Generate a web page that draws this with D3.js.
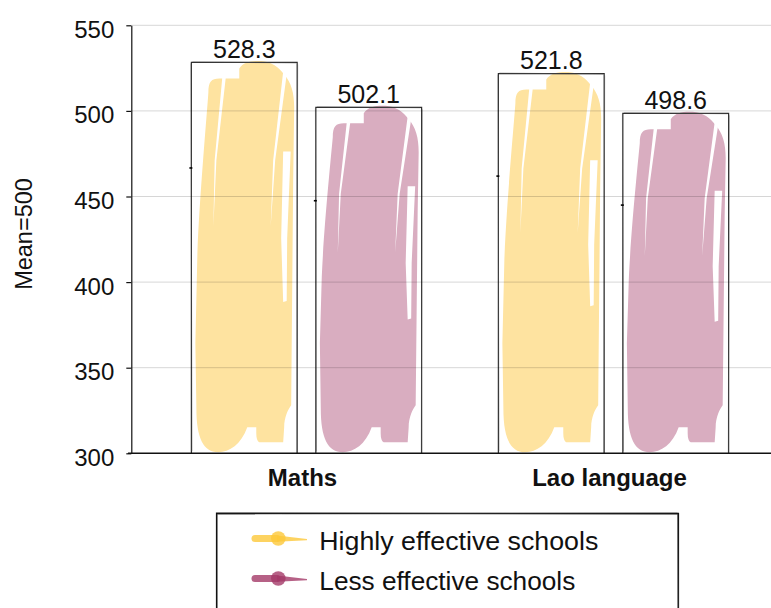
<!DOCTYPE html>
<html>
<head>
<meta charset="utf-8">
<script src="https://cdn.jsdelivr.net/npm/d3@7/dist/d3.min.js"></script>
<style>
  html, body { margin: 0; padding: 0; background: #fff; }
  svg { display: block; }
  text { font-family: "Liberation Sans", Arial, Helvetica, sans-serif; fill: #111; }
</style>
</head>
<body>
<svg id="chart" width="771" height="608"></svg>
<script>
// Mean scores by subject and school group
const categories = ["Maths", "Lao language"];
const seriesNames = ["Highly effective schools", "Less effective schools"];
const highlyEffective = [528.3, 521.8];
const lessEffective = [502.1, 498.6];
const yTicks = [300, 350, 400, 450, 500, 550];
const fillColors = ["#fee3a0", "#d9adc0"];
const legendColors = ["#fdc83a", "#a43a68"];
const legendTextWidths = [279, 256];

const seriesValues = [highlyEffective, lessEffective];
const rows = categories.map((c, i) => ({
  category: c,
  values: seriesNames.map((s, j) => ({ series: s, idx: j, value: seriesValues[j][i] }))
}));

const svg = d3.select("#chart");
const W = 771, H = 608;
svg.append("rect").attr("width", W).attr("height", H).attr("fill", "#fff");

const plotLeft = 131.3, plotRight = 771;
const y = d3.scaleLinear().domain([300, 550]).range([453.3, 25.3]);
const x0 = d3.scaleBand().domain(categories).range([153, 767])
  .paddingInner(0.25).paddingOuter(0.125);
const x1 = d3.scaleBand().domain(seriesNames).range([0, x0.bandwidth()])
  .paddingInner(0.15).paddingOuter(0);

// Hand-painted looking fill: outline defined in pixel offsets for a 106px wide bar
function blobPath(L, Wd, T, B) {
  const k = Wd / 106, Hh = B - T;
  const P = (u, yy) => `${(L + u * k).toFixed(1)},${yy.toFixed(1)}`;
  return [
    `M${P(17, T + 30)}`,
    `C${P(17, T + 19)} ${P(20, T + 16)} ${P(28, T + 16)}`,
    `L${P(48, T + 16)}`,
    `L${P(48, T + 6)}`,
    `C${P(52, T - 1)} ${P(62, T - 2)} ${P(70, T - 1.5)}`,
    `C${P(80, T - 1)} ${P(88, T + 5)} ${P(93, T + 12)}`,
    `C${P(100, T + 20)} ${P(103, T + 30)} ${P(103, T + 45)}`,
    `L${P(102, T + 0.3 * Hh)}`,
    `L${P(100, B - 48)}`,
    `C${P(97, B - 44)} ${P(93, B - 36)} ${P(93, B - 26)}`,
    `L${P(92, B - 11)}`,
    `L${P(68, B - 11)}`,
    `C${P(66, B - 12)} ${P(65, B - 15)} ${P(65, B - 20)}`,
    `L${P(65, B - 26)}`,
    `L${P(56, B - 26)}`,
    `C${P(50, B - 9)} ${P(38, B - 1)} ${P(27, B - 1)}`,
    `C${P(12, B - 1)} ${P(5, B - 15)} ${P(5, B - 45)}`,
    `L${P(4, B - 110)}`,
    `L${P(6, T + 0.49 * Hh)}`,
    `C${P(8, T + 0.35 * Hh)} ${P(15, T + 0.15 * Hh)} ${P(17, T + 30)}`,
    "Z"
  ].join(" ");
}

function streakPaths(L, Wd, T, B) {
  const k = Wd / 106, Hh = B - T;
  const P = (u, yy) => `${(L + u * k).toFixed(1)},${yy.toFixed(1)}`;
  const N = T + 0.228 * Hh;
  return [
    `M${P(31, T + 15)} L${P(34.5, T + 15)} L${P(25, T + 0.25 * Hh)} L${P(22, T + 0.42 * Hh)} L${P(23.3, T + 0.25 * Hh)} Z`,
    `M${P(92, T + 9)} L${P(95.5, T + 12)} L${P(84, T + 0.25 * Hh)} L${P(79.5, T + 0.42 * Hh)} L${P(82, T + 0.25 * Hh)} Z`,
    `M${P(92, N)} L${P(99.5, N)} L${P(96, T + 0.45 * Hh)} L${P(95.5, T + 0.61 * Hh)} L${P(92, T + 0.61 * Hh + 1)} L${P(90, T + 0.45 * Hh)} Z`
  ];
}

const base = y(300);

// Bars
const groups = svg.append("g").selectAll("g").data(rows).join("g")
  .attr("transform", d => `translate(${x0(d.category)},0)`);

groups.each(function (d) {
  const g = d3.select(this);
  d.values.forEach(v => {
    const L = x1(v.series), Wd = x1.bandwidth(), T = y(v.value);
    g.append("path").attr("d", blobPath(L, Wd, T, base))
      .attr("fill", fillColors[v.idx]);
    streakPaths(L, Wd, T, base).forEach(p =>
      g.append("path").attr("d", p).attr("fill", "#fff"));
    // sketchy outline box
    const R = L + Wd;
    g.append("path")
      .attr("d", `M${L},${base} L${L},${T} L${R},${T} L${R},${base}`)
      .attr("fill", "none").attr("stroke", "#2a2a2a").attr("stroke-width", 1.2);
    g.append("path")
      .attr("d", `M${L + 0.6},${base - 2} L${L - 0.4},${T + 1} M${L + 1},${T - 0.5} L${R - 1},${T + 0.5} M${R + 0.5},${T + 2} L${R - 0.3},${base}`)
      .attr("fill", "none").attr("stroke", "#555").attr("stroke-width", 0.8).attr("opacity", 0.6);
    g.append("line")
      .attr("x1", L - 2).attr("x2", L + 1)
      .attr("y1", T + 0.27 * (base - T)).attr("y2", T + 0.27 * (base - T))
      .attr("stroke", "#000").attr("stroke-width", 1.6);
    // value label
    g.append("text")
      .attr("x", L + Wd / 2).attr("y", T - 4.5)
      .attr("text-anchor", "middle")
      .style("font-size", "25px")
      .text(v.value.toFixed(1));
  });
});

// Gridlines over the bars
svg.append("g").selectAll("line").data(yTicks.filter(t => t > 300)).join("line")
  .attr("x1", plotLeft).attr("x2", plotRight)
  .attr("y1", d => y(d)).attr("y2", d => y(d))
  .attr("stroke", "#000").attr("stroke-opacity", 0.16).attr("stroke-width", 1);

// Y axis
const yAxis = svg.append("g").attr("transform", `translate(${plotLeft},0)`)
  .call(d3.axisLeft(y).tickValues(yTicks).tickSize(5).tickSizeOuter(0).tickPadding(12));
yAxis.select(".domain").attr("stroke", "#111").attr("stroke-width", 1.2);
yAxis.selectAll(".tick line").attr("stroke", "#111").attr("stroke-width", 1.2);
yAxis.selectAll(".tick text")
  .attr("dy", "0.5em")
  .style("font-size", "24px")
  .style("font-family", "'Liberation Sans', Arial, sans-serif")
  .attr("fill", "#111");

// Baseline
svg.append("line")
  .attr("x1", 128).attr("x2", plotRight)
  .attr("y1", base).attr("y2", base)
  .attr("stroke", "#111").attr("stroke-width", 1.5);

// X axis labels
const xAxis = svg.append("g").attr("transform", `translate(0,${base})`)
  .call(d3.axisBottom(x0).tickSize(0).tickPadding(0));
xAxis.select(".domain").remove();
xAxis.selectAll(".tick text")
  .attr("y", 0).attr("dy", "33px").attr("dx", "-4px")
  .style("font-size", "24px")
  .style("font-weight", "bold")
  .style("font-family", "'Liberation Sans', Arial, sans-serif")
  .attr("fill", "#111");

// Y axis title
svg.append("text")
  .attr("transform", "translate(31.5,234) rotate(-90)")
  .attr("text-anchor", "middle")
  .style("font-size", "23.5px")
  .text("Mean=500");

// Legend
const legend = svg.append("g");
legend.append("path")
  .attr("d", "M216.7,640 L216.7,513.3 L678.3,513.6 L678.3,640")
  .attr("fill", "none").attr("stroke", "#111").attr("stroke-width", 1.6);
legend.append("path")
  .attr("d", "M217.5,514.3 L677.5,512.8 M677.6,515 L678.8,640")
  .attr("fill", "none").attr("stroke", "#444").attr("stroke-width", 0.7).attr("opacity", 0.6);

const items = legend.selectAll("g.item").data(seriesNames).join("g")
  .attr("class", "item")
  .attr("transform", (d, i) => `translate(0,${538.5 + i * 40})`);
items.append("line")
  .attr("x1", 255).attr("x2", 277).attr("y1", 0).attr("y2", 0)
  .attr("stroke", (d, i) => legendColors[i]).attr("stroke-width", 7)
  .attr("stroke-linecap", "round").attr("stroke-opacity", 0.8);
items.append("path")
  .attr("d", "M277,-3 L307,0.5 L307,1.8 L277,3.2 Z")
  .attr("fill", (d, i) => legendColors[i]).attr("fill-opacity", 0.8);
items.append("circle")
  .attr("cx", 278.3).attr("cy", 0).attr("r", 7.3)
  .attr("fill", (d, i) => legendColors[i]).attr("fill-opacity", 0.8);
items.append("text")
  .attr("x", 319.3).attr("y", 11)
  .attr("textLength", (d, i) => legendTextWidths[i])
  .attr("lengthAdjust", "spacingAndGlyphs")
  .style("font-size", "25px")
  .text(d => d);
</script>
</body>
</html>
